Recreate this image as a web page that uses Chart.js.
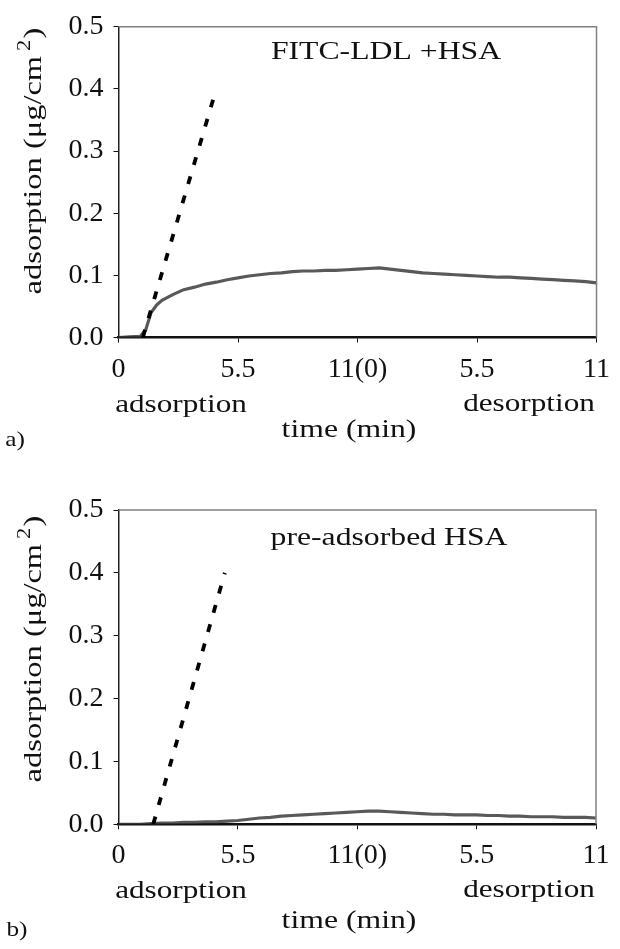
<!DOCTYPE html>
<html><head><meta charset="utf-8">
<script src="https://cdn.jsdelivr.net/npm/chart.js@4/dist/chart.umd.min.js"></script>
<style>
html,body{margin:0;padding:0;background:#fff;width:620px;height:949px;overflow:hidden}
#wa{position:absolute;left:0;top:0;width:620px;height:470px}
#wb{position:absolute;left:0;top:470px;width:620px;height:479px}
</style></head><body>
<div id="wa"><canvas id="ca" width="620" height="470"></canvas></div>
<div id="wb"><canvas id="cb" width="620" height="479"></canvas></div>
<script>
// ---- data ----
const tickValues = [0, 5.5, 11, 16.5, 22];
const tickLabels = ['0', '5.5', '11(0)', '5.5', '11'];
const yTicks = [0, 0.1, 0.2, 0.3, 0.4, 0.5];

// panel a: FITC-LDL + HSA
const timeA = [0,0.5,1.0,1.25,1.5,1.75,2.0,2.5,3.0,3.5,4.0,4.5,5.0,5.5,6.0,6.5,7.0,7.5,8.0,8.5,9.0,9.5,10.0,10.5,11.0,11.5,12.0,12.5,13.0,13.5,14.0,14.5,15.0,15.5,16.0,16.5,17.0,17.5,18.0,18.5,19.0,19.5,20.0,20.5,21.0,21.5,22.0];
const adsorptionA = [0.000,0.001,0.002,0.012,0.040,0.052,0.060,0.069,0.077,0.081,0.086,0.089,0.093,0.096,0.099,0.101,0.103,0.104,0.106,0.107,0.107,0.108,0.108,0.109,0.110,0.111,0.112,0.110,0.108,0.106,0.104,0.103,0.102,0.101,0.100,0.099,0.098,0.097,0.097,0.096,0.095,0.094,0.093,0.092,0.091,0.090,0.088];
const rateTimeA = [1.12, 4.5];
const rateA = [0.0, 0.4];

// panel b: pre-adsorbed HSA
const timeB = [0,0.5,1.0,1.5,2.0,2.5,3.0,3.5,4.0,4.5,5.0,5.5,6.0,6.5,7.0,7.5,8.0,8.5,9.0,9.5,10.0,10.5,11.0,11.5,12.0,12.5,13.0,13.5,14.0,14.5,15.0,15.5,16.0,16.5,17.0,17.5,18.0,18.5,19.0,19.5,20.0,20.5,21.0,21.5,22.0];
const adsorptionB = [0.000,0.000,0.000,0.001,0.002,0.002,0.003,0.003,0.004,0.004,0.005,0.006,0.008,0.010,0.011,0.013,0.014,0.015,0.016,0.017,0.018,0.019,0.020,0.021,0.021,0.020,0.019,0.018,0.017,0.016,0.016,0.015,0.015,0.015,0.014,0.014,0.013,0.013,0.012,0.012,0.012,0.011,0.011,0.011,0.010];
const rateTimeB = [1.6, 4.9];
const rateB = [0.0, 0.4];

const panelTitles = ['FITC-LDL +HSA', 'pre-adsorbed HSA'];
const panelLetters = ['a)', 'b)'];
const phaseLabels = ['adsorption', 'desorption'];
const xTitle = 'time (min)';

// ---- drawing ----
const FONT = '"Liberation Serif", "Times New Roman", serif';

function drawRuns(ctx, runs, cx, cy, rot, sx) {
  ctx.save();
  ctx.translate(cx, cy);
  ctx.rotate(rot);
  ctx.scale(sx, 1);
  let total = 0;
  runs.forEach(r => { ctx.font = r.font; r.w = ctx.measureText(r.t).width + (r.gap || 0); total += r.w; });
  let x = -total / 2;
  ctx.textBaseline = 'middle'; ctx.textAlign = 'left'; ctx.fillStyle = '#111';
  runs.forEach(r => { ctx.font = r.font; ctx.fillText(r.t, x + (r.gap || 0), r.dy || 0); x += r.w; });
  ctx.restore();
}

function makePanel(canvasId, idx, times, values, rateTimes, rateValues, geo) {
  const H = geo.H;
  const deco = {
    id: 'deco' + idx,
    afterDraw(chart) {
      const ctx = chart.ctx, ca = chart.chartArea;
      ctx.save();
      ctx.strokeStyle = '#808080'; ctx.lineWidth = 1.5;
      ctx.beginPath();
      ctx.moveTo(ca.left, ca.top); ctx.lineTo(ca.right, ca.top); ctx.lineTo(ca.right, ca.bottom);
      ctx.stroke();
      ctx.restore();
      const f26 = '26px ' + FONT;
      drawRuns(ctx, [{t: panelTitles[idx], font: f26}], geo.titleX, geo.titleY, 0, 1.22);
      drawRuns(ctx, [
        {t: 'adsorption (\u03bcg/cm', font: f26},
        {t: '2', font: '18px ' + FONT, dy: -9, gap: 4},
        {t: ')', font: f26, gap: 1}
      ], 34, geo.yTitleY, -Math.PI / 2, 1.25);
      drawRuns(ctx, [{t: phaseLabels[0], font: f26}], 181, geo.phaseY, 0, 1.2);
      drawRuns(ctx, [{t: phaseLabels[1], font: f26}], 529, geo.phaseY - 1, 0, 1.2);
      drawRuns(ctx, [{t: xTitle, font: f26}], 349, geo.xTitleY, 0, 1.22);
      drawRuns(ctx, [{t: panelLetters[idx], font: '22px ' + FONT}], geo.letterX, geo.letterY, 0, 1.15);
    }
  };
  return new Chart(document.getElementById(canvasId), {
    type: 'line',
    data: { datasets: [
      { label: 'measured', data: times.map((t, i) => ({x: t, y: values[i]})),
        borderColor: 'rgba(60,60,60,0.85)', borderWidth: 3.2, pointRadius: 0, tension: 0, order: 2 },
      { label: 'initial rate', data: rateTimes.map((t, i) => ({x: t, y: rateValues[i]})),
        borderColor: '#000', borderWidth: 3.8, borderDash: [8, 12], pointRadius: 0, order: 1 }
    ]},
    options: {
      responsive: false, animation: false, devicePixelRatio: 1,
      layout: { padding: { left: 0, top: geo.top, right: 620 - geo.right, bottom: 0 } },
      plugins: { legend: { display: false }, tooltip: { enabled: false } },
      scales: {
        x: {
          type: 'linear', min: 0, max: 22,
          afterBuildTicks: s => { s.ticks = tickValues.map(v => ({value: v})); },
          afterFit: s => { s.height = H - geo.bottom; },
          ticks: { callback: (v, i) => tickLabels[i], font: {family: FONT, size: 28}, color: '#111', padding: 10, maxRotation: 0, autoSkip: false },
          grid: { drawOnChartArea: false, drawTicks: true, tickLength: 5, color: '#111' },
          border: { display: true, color: '#111', width: 2.5 }
        },
        y: {
          min: 0, max: 0.5,
          afterBuildTicks: s => { s.ticks = yTicks.map(v => ({value: v})); },
          afterFit: s => { s.width = geo.left; },
          ticks: { callback: v => Number(v).toFixed(1), font: {family: FONT, size: 28}, color: '#111', padding: 10 },
          grid: { drawOnChartArea: false, drawTicks: true, tickLength: 5, color: '#111' },
          border: { display: true, color: '#222', width: 1.5 }
        }
      }
    },
    plugins: [deco]
  });
}

makePanel('ca', 0, timeA, adsorptionA, rateTimeA, rateA, {
  H: 470, left: 118.5, right: 597.5, top: 23, bottom: 337.5,
  titleX: 386, titleY: 52, yTitleY: 161, phaseY: 405, xTitleY: 430, letterX: 15, letterY: 440
});
makePanel('cb', 1, timeB, adsorptionB, rateTimeB, rateB, {
  H: 479, left: 118.5, right: 596, top: 40, bottom: 354.3,
  titleX: 389, titleY: 68, yTitleY: 179, phaseY: 421.5, xTitleY: 451.5, letterX: 17, letterY: 460
});
</script>
</body></html>
